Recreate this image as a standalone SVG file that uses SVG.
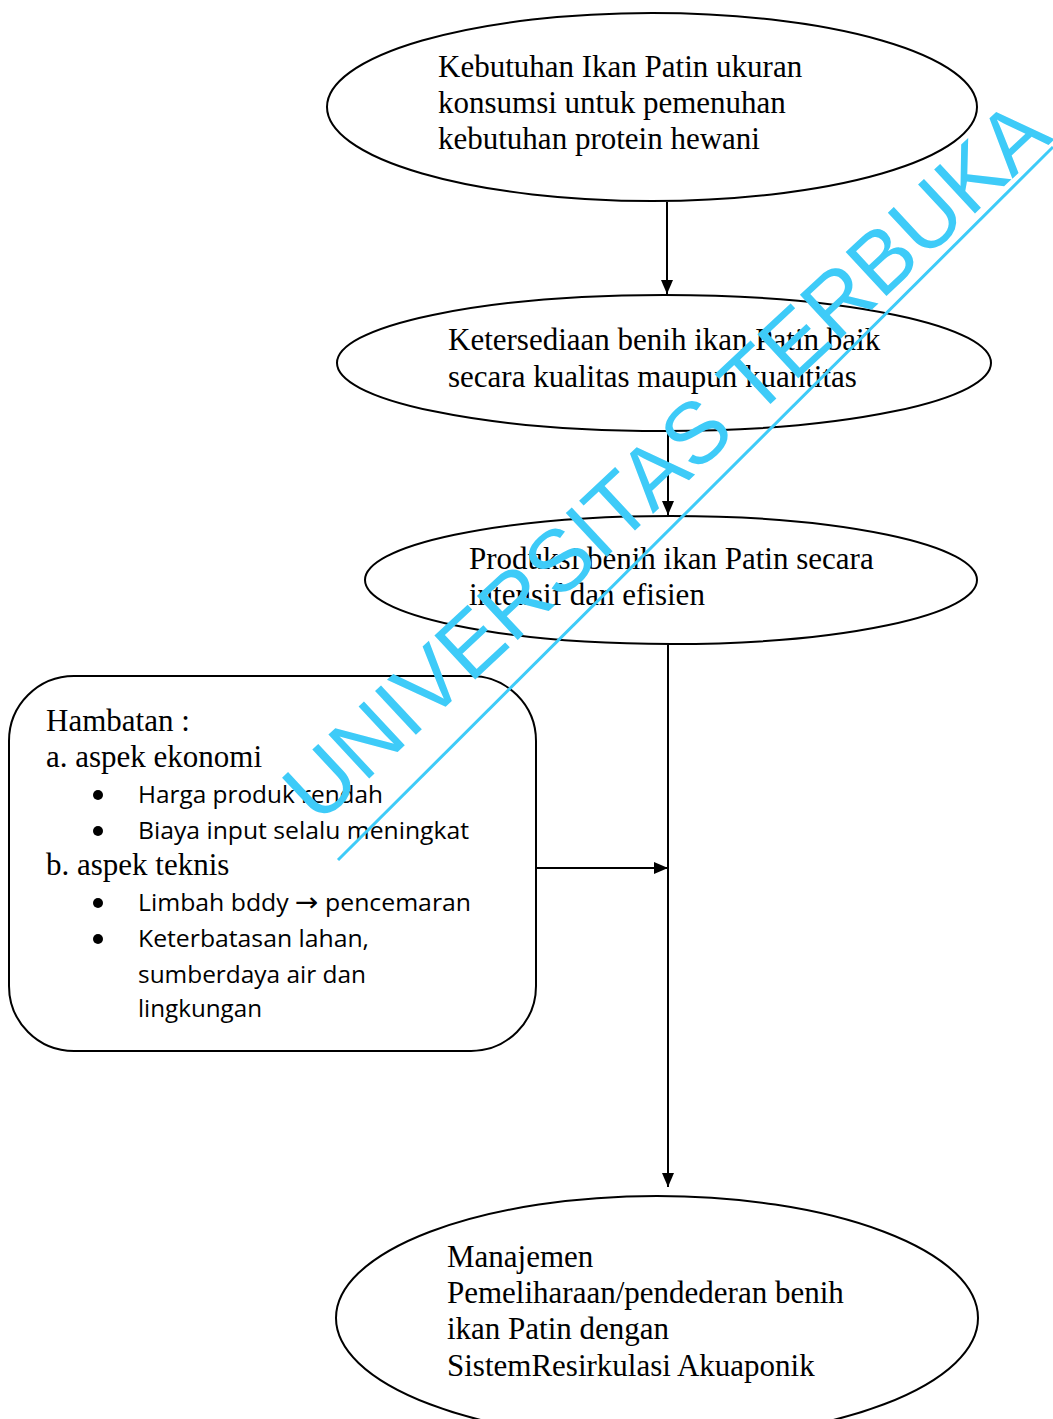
<svg xmlns="http://www.w3.org/2000/svg" width="1053" height="1419" viewBox="0 0 1053 1419">
<style>
.shape{fill:none;stroke:#000;stroke-width:2}
.serif{font-family:"Liberation Serif","Times New Roman",serif;font-size:31px;fill:#000}
.sans{font-family:"Open Sans","Liberation Sans",sans-serif;font-size:23px;fill:#000}
.conn{stroke:#000;stroke-width:2;fill:none}
.wm{font-family:"Liberation Sans",Arial,sans-serif;font-size:87px;fill:#3ecbf8}
</style>
<defs>
<marker id="ah" markerWidth="14" markerHeight="12" refX="14" refY="6" orient="auto" markerUnits="userSpaceOnUse">
<path d="M0,0 L14,6 L0,12 Z" fill="#000"/>
</marker>
</defs>
<rect width="1053" height="1419" fill="#fff"/>
<g id="connectors">
<line class="conn" x1="667" y1="202" x2="667" y2="294" marker-end="url(#ah)"/>
<line class="conn" x1="668" y1="432" x2="668" y2="515" marker-end="url(#ah)"/>
<line class="conn" x1="668" y1="645" x2="668" y2="1187" marker-end="url(#ah)"/>
<line class="conn" x1="536" y1="868" x2="668" y2="868" marker-end="url(#ah)"/>
</g>
<g id="node1">
<ellipse class="shape" cx="652" cy="107" rx="325" ry="94"/>
<text class="serif" x="438" y="77">Kebutuhan Ikan Patin ukuran</text>
<text class="serif" x="438" y="113">konsumsi untuk pemenuhan</text>
<text class="serif" x="438" y="149">kebutuhan protein hewani</text>
</g>
<g id="node2">
<ellipse class="shape" cx="664" cy="363" rx="327" ry="68"/>
<text class="serif" x="448" y="350">Ketersediaan benih ikan Patin baik</text>
<text class="serif" x="448" y="387">secara kualitas maupun kuantitas</text>
</g>
<g id="node3">
<ellipse class="shape" cx="671" cy="580" rx="306" ry="64"/>
<text class="serif" x="469" y="569">Produksi benih ikan Patin secara</text>
<text class="serif" x="469" y="605">intensif dan efisien</text>
</g>
<g id="node4">
<ellipse class="shape" cx="657" cy="1318" rx="321" ry="122"/>
<text class="serif" x="447" y="1267">Manajemen</text>
<text class="serif" x="447" y="1303">Pemeliharaan/pendederan benih</text>
<text class="serif" x="447" y="1339">ikan Patin dengan</text>
<text class="serif" x="447" y="1376">SistemResirkulasi Akuaponik</text>
</g>
<g id="hambatan">
<rect class="shape" x="9" y="676" width="527" height="375" rx="65" ry="65"/>
<text class="serif" x="46" y="731">Hambatan :</text>
<text class="serif" x="46" y="767">a. aspek ekonomi</text>
<circle cx="98" cy="795" r="5"/>
<text class="sans" x="138" y="803" textLength="245" lengthAdjust="spacingAndGlyphs">Harga produk rendah</text>
<circle cx="98" cy="831" r="5"/>
<text class="sans" x="138" y="839" textLength="331" lengthAdjust="spacingAndGlyphs">Biaya input selalu meningkat</text>
<text class="serif" x="46" y="875">b. aspek teknis</text>
<circle cx="98" cy="903" r="5"/>
<text class="sans" x="138" y="911" textLength="333" lengthAdjust="spacingAndGlyphs">Limbah bddy <tspan font-family="DejaVu Sans" font-size="26">→</tspan> pencemaran</text>
<circle cx="98" cy="939" r="5"/>
<text class="sans" x="138" y="947" textLength="231" lengthAdjust="spacingAndGlyphs">Keterbatasan lahan,</text>
<text class="sans" x="138" y="983" textLength="228" lengthAdjust="spacingAndGlyphs">sumberdaya air dan</text>
<text class="sans" x="138" y="1017" textLength="124" lengthAdjust="spacingAndGlyphs">lingkungan</text>
</g>
<g id="watermark">
<text class="wm" transform="translate(318,826) rotate(-43)">UNIVERSITAS TERBUKA</text>
<line x1="338" y1="860" x2="1053" y2="147" stroke="#3ecbf8" stroke-width="3"/>
</g>
</svg>
